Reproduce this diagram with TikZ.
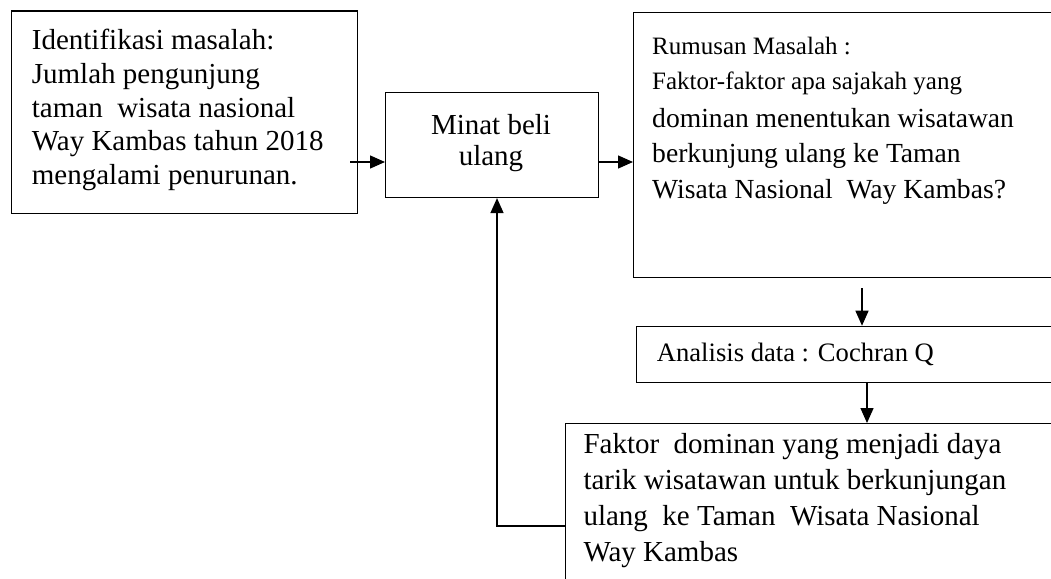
\documentclass[tikz,border=0pt]{standalone}
\usepackage{fontspec}
\setmainfont{Liberation Serif}
\usetikzlibrary{arrows.meta,calc}
\newcommand{\mylines}[1]{\begin{tabular}[t]{@{}l@{}}#1\end{tabular}}
\newcommand{\mylinesc}[1]{\begin{tabular}[t]{@{}c@{}}#1\end{tabular}}
\begin{document}
\begin{tikzpicture}[x=1pt,y=-1pt,
  box/.style={draw,line width=1.4pt,rectangle,anchor=north west,inner sep=0pt},
  txt/.style={anchor=base west,inner sep=0pt,font=\fontsize{29}{33.5}\selectfont},
  arr/.style={line width=1.4pt,-{Triangle[length=15pt,width=13pt]}}]
\useasboundingbox (0,0) rectangle (1051,578);
\clip (0,0) rectangle (1051,578);
% boxes
\node[box,minimum width=346.5pt,minimum height=202pt] (b1) at (10.5,10.5) {};
\node[box,minimum width=212.7pt,minimum height=105pt] (b2) at (385,91.7) {};
\node[box,minimum width=440pt,minimum height=265.3pt] (b3) at (633,11.7) {};
\node[box,minimum width=430pt,minimum height=56pt] (b4) at (636,325.7) {};
\node[box,minimum width=500pt,minimum height=200pt] (b5) at (565,423) {};
% texts
\node[txt] (t1) at (31.7,50) {\mylines{Identifikasi masalah:\\Jumlah pengunjung\\taman\ \ wisata nasional\\Way Kambas tahun 2018\\mengalami penurunan.}};
\node[txt,anchor=base,font=\fontsize{29}{31}\selectfont] (t2) at (491,134) {\mylinesc{Minat beli\\ulang}};
\node[txt,font=\fontsize{25}{35}\selectfont] (t3a) at (652,55) {\mylines{Rumusan Masalah :\\Faktor-faktor apa sajakah yang}};
\node[txt,font=\fontsize{27.6}{35.5}\selectfont] (t3b) at (652,127) {\mylines{dominan menentukan wisatawan\\berkunjung ulang ke Taman\\Wisata Nasional\ \ Way Kambas?}};
\node[txt,font=\fontsize{26.6}{30}\selectfont] (t4) at (656.7,361.7) {Analisis data : Cochran Q};
\node[txt,font=\fontsize{29}{36}\selectfont] (t5) at (583.3,453) {\mylines{Faktor\ \ dominan yang menjadi daya\\tarik wisatawan untuk berkunjungan\\ulang\ \ ke Taman\ \ Wisata Nasional\\Way Kambas}};
% connectors
\coordinate (r1) at (0,162);
\coordinate (c3) at (862,0);
\coordinate (c4) at (867,0);
\coordinate (r5) at (0,526);
\coordinate (c5) at (497,0);
\draw[arr] ($(b1.east |- r1)+(-8,0)$) -- (b2.west |- r1);
\draw[arr] (b2.east |- r1) -- (b3.west |- r1);
\draw[arr] ($(b3.south -| c3)+(0,10)$) -- (b4.north -| c3);
\draw[arr] (b4.south -| c4) -- (b5.north -| c4);
\draw[arr] (b5.west |- r5) -| (b2.south -| c5);
\end{tikzpicture}
\end{document}
